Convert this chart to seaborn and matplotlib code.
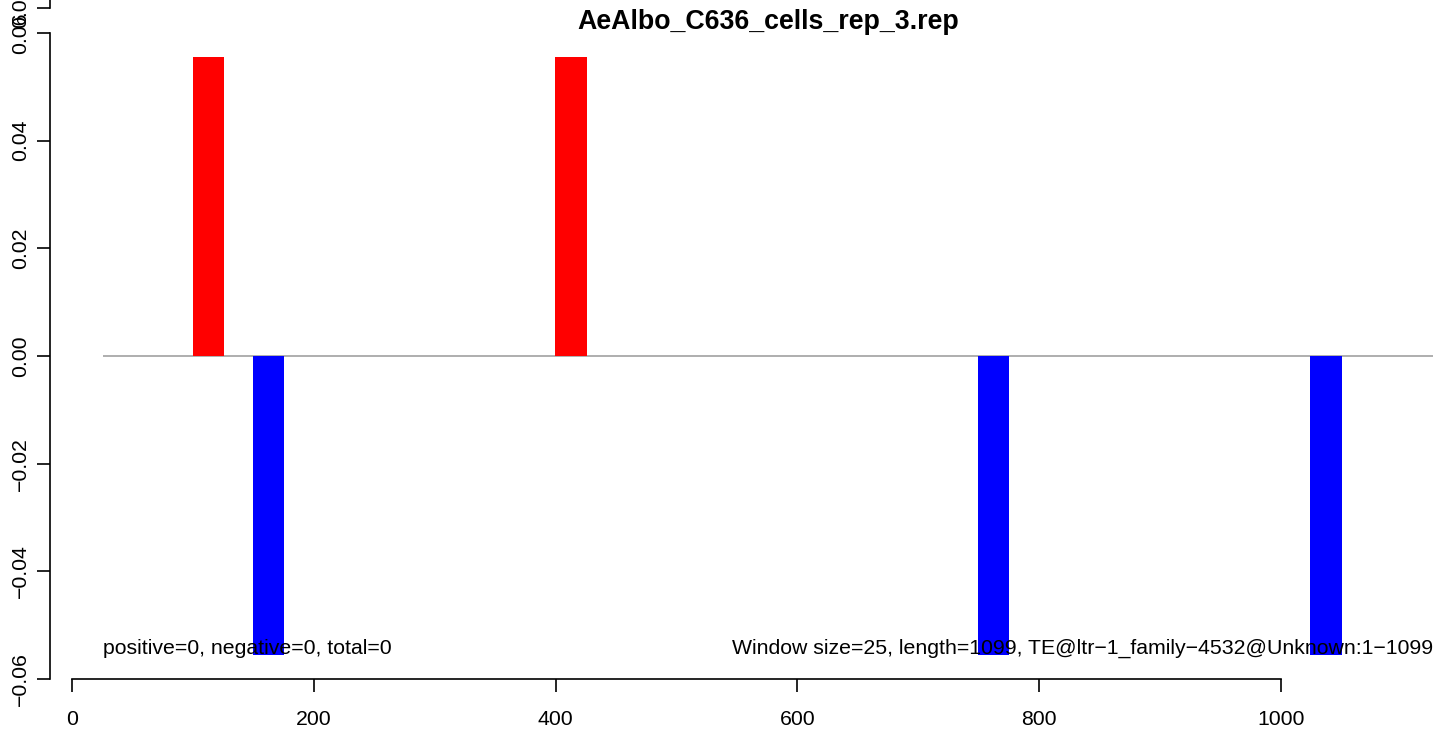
import matplotlib
matplotlib.use("Agg")
import matplotlib.pyplot as plt
import seaborn as sns
import pandas as pd

# ---- data ----
title = "AeAlbo_C636_cells_rep_3.rep"
window_size = 25
seq_length = 1099
window_starts = [100, 150, 400, 750, 1025]
values = [0.0556, -0.0556, 0.0556, -0.0556, -0.0556]
strand = ["pos" if v > 0 else "neg" for v in values]
x_ticks = [0, 200, 400, 600, 800, 1000]
y_ticks = [-0.06, -0.04, -0.02, 0.00, 0.02, 0.04, 0.06]
left_note = "positive=0, negative=0, total=0"
right_note = "Window size=25, length=1099, TE@ltr\u22121_family\u22124532@Unknown:1\u22121099"

sns.set_style("white")
plt.rcParams["font.family"] = ["Liberation Sans", "DejaVu Sans"]
plt.rcParams["axes.unicode_minus"] = True
plt.rcParams["text.color"] = "black"
plt.rcParams["xtick.color"] = "black"
plt.rcParams["ytick.color"] = "black"

FS = 15.3
W, H = 1439, 730
fig = plt.figure(figsize=(W / 100, H / 100), dpi=100)
ax_left, ax_bottom = 50 / W, 1 - 679 / H
ax = fig.add_axes([ax_left, ax_bottom, 1 - ax_left, 1 - ax_bottom])

df = pd.DataFrame({
    "center": [s + window_size / 2 for s in window_starts],
    "value": values,
    "strand": strand,
})
sns.barplot(data=df, x="center", y="value", hue="strand", native_scale=True,
            width=0.52, dodge=False, palette={"pos": "#FF0000", "neg": "#0000FF"},
            saturation=1, legend=False, ax=ax, linewidth=0, edgecolor="none")

YLIM = (-0.06, 0.0661)
ax.set_xlim(-18.45, 1130.9)
ax.set_ylim(*YLIM)
ax.hlines(0, window_size, seq_length + 27, color="#999999", lw=1.1, zorder=0)

ax.set_xlabel("")
ax.set_ylabel("")
for s in ["top", "right"]:
    ax.spines[s].set_visible(False)
for s in ["left", "bottom"]:
    ax.spines[s].set_linewidth(1.2)
    ax.spines[s].set_color("black")
ax.spines["bottom"].set_bounds(0, 1000)
ax.spines["left"].set_bounds(-0.06, 0.06)
ax.set_xticks(x_ticks)
ax.set_xticklabels([str(t) for t in x_ticks])
ax.set_yticks(y_ticks)
ax.set_yticklabels([f"{t:.2f}".replace("-", "\u2212") for t in y_ticks],
                   rotation=90, va="center")
ax.tick_params(axis="both", length=9.5, width=1.2, color="black",
               labelsize=FS, direction="out", left=True, bottom=True)
ax.tick_params(axis="x", pad=13)
ax.tick_params(axis="y", pad=5)

# extra axis fragment at the top (from the panel above)
ax2 = fig.add_axes([ax_left, ax_bottom, 1 - ax_left, 1 - ax_bottom])
ax2.set_ylim(*YLIM)
ax2.patch.set_visible(False)
for s in ["top", "right", "bottom"]:
    ax2.spines[s].set_visible(False)
ax2.spines["left"].set_linewidth(1.2)
ax2.spines["left"].set_color("black")
ax2.spines["left"].set_bounds(0.0647, 0.0661)
ax2.set_xticks([])
ax2.set_yticks([0.0647])
ax2.set_yticklabels(["0.06"], rotation=90, va="center")
ax2.tick_params(axis="y", length=9.5, width=1.2, labelsize=FS, pad=5, left=True)

ax.text(window_size, -0.0543, left_note, ha="left", va="center", fontsize=FS)
ax.text(seq_length + 27, -0.0543, right_note, ha="right", va="center", fontsize=FS)
fig.text(768 / W, 1 - 22 / H, title, ha="center", va="center",
         fontsize=19.3, fontweight="bold")

fig.savefig("out.png", dpi=100)
